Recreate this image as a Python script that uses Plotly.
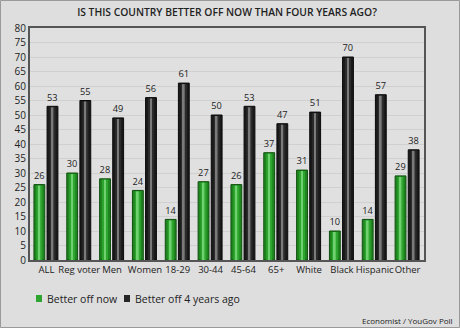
import plotly.graph_objects as go

categories = ["ALL", "Reg voter", "Men", "Women", "18-29", "30-44", "45-64", "65+",
              "White", "Black", "Hispanic", "Other"]
better_now = [26, 30, 28, 24, 14, 27, 26, 37, 31, 10, 14, 29]
better_4yrs = [53, 55, 49, 56, 61, 50, 53, 47, 51, 70, 57, 38]
series_names = ["Better off now", "Better off 4 years ago"]
y_ticks = list(range(0, 81, 5))

font = "Open Sans"
W = 0.33
fig = go.Figure()

def add_series(vals, off, base, edge, mid, hi):
    fig.add_trace(go.Bar(
        x=categories, y=vals, width=W, offset=off,
        marker=dict(color=base, line=dict(color=edge, width=1)),
        text=vals, textposition="outside", cliponaxis=False,
        textfont=dict(family=font, size=10, color="#222"), showlegend=False,
    ))
    fig.add_trace(go.Bar(
        x=categories, y=[v - 0.35 for v in vals], width=W * 0.55, offset=off + W * 0.225,
        marker=dict(color=mid, line=dict(width=0)), showlegend=False, hoverinfo="skip",
    ))
    fig.add_trace(go.Bar(
        x=categories, y=[v - 0.35 for v in vals], width=W * 0.16, offset=off + W * 0.42,
        marker=dict(color=hi, line=dict(width=0)), showlegend=False, hoverinfo="skip",
    ))

add_series(better_now, -0.38, "#1f861f", "#0f4f0f", "#2ea52e", "#6fd06f")
add_series(better_4yrs, 0.02, "#1a1a1a", "#0a0a0a", "#2c2c2c", "#7a7a7a")

# custom legend
legend_items = [(36, "#2ea52e", series_names[0]), (124, "#262626", series_names[1])]
annotations = []
shapes = []
def px(x):
    return (x - 30) / 394
def py(y):
    return (260 - y) / 232
for x, c, name in legend_items:
    shapes.append(dict(type="rect", xref="paper", yref="paper",
                       x0=px(x), x1=px(x + 6), y0=py(302), y1=py(295),
                       fillcolor=c, line=dict(width=0)))
    annotations.append(dict(text=name, xref="paper", yref="paper", x=px(x + 9), y=py(298.5),
                            xanchor="left", yanchor="middle", showarrow=False,
                            font=dict(family=font, size=10.5, color="#222")))
annotations.append(dict(text="Economist / YouGov Poll", xref="paper", yref="paper",
                        x=px(455), y=py(320), xanchor="right", yanchor="middle",
                        showarrow=False, font=dict(family=font, size=8, color="#222")))
shapes.append(dict(type="rect", xref="paper", yref="paper",
                   x0=px(0.5), x1=px(459.5), y0=py(327.5), y1=py(0.5),
                   line=dict(color="#9a9a9a", width=1), fillcolor="rgba(0,0,0,0)",
                   layer="below"))

fig.update_layout(
    width=460, height=328,
    margin=dict(l=30, r=36, t=28, b=68),
    paper_bgcolor="#dedede", plot_bgcolor="#e0e0e0",
    font=dict(family=font, size=10, color="#222"),
    barmode="overlay",
    title=dict(text="IS THIS COUNTRY BETTER OFF NOW THAN FOUR YEARS AGO?",
               x=0.5, xanchor="center", xref="paper", y=1 - 12 / 328, yanchor="middle",
               font=dict(family=font, size=10.3, color="#222", weight=600)),
    showlegend=False,
    xaxis=dict(showgrid=False, ticks="", tickangle=0, tickfont=dict(size=9.5),
               showline=True, linecolor="#555", linewidth=2, mirror=True,
               range=[-0.5, 11.5]),
    yaxis=dict(range=[0, 80], tickvals=y_ticks, showgrid=True, gridcolor="#d0d0d0",
               gridwidth=1, ticks="", tickfont=dict(size=10), zeroline=False,
               showline=True, linecolor="#555", linewidth=2, mirror=True),
    annotations=annotations,
    shapes=shapes,
)

fig.write_html("out.html")
